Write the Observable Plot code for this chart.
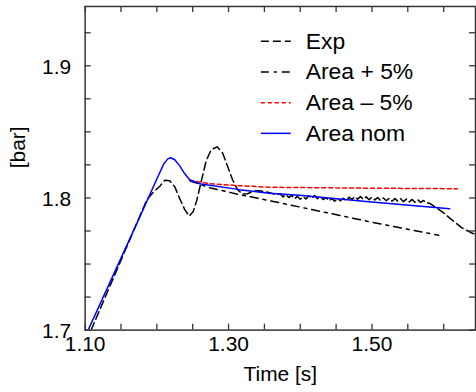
<!DOCTYPE html>
<html><head><meta charset="utf-8">
<script src="https://cdn.jsdelivr.net/npm/d3@7"></script>
<script src="https://cdn.jsdelivr.net/npm/@observablehq/plot@0.6"></script>
<style>
html,body{margin:0;padding:0;background:#fff;}
#chart{width:476px;height:392px;overflow:hidden;}
</style></head><body><div id="chart"></div>
<script>
// ---- data ----
const expTime = [1.1083,1.1861,1.1944,1.2042,1.2111,1.2181,1.2250,1.2319,1.2389,1.2451,1.2507,1.2556,1.2618,1.2688,1.2757,1.2840,1.2917,1.2986,1.3056,1.3125,1.3194,1.3264,1.3347,1.3431,1.3514,1.3597,1.3681,
 1.372,1.376,1.380,1.384,1.388,1.392,1.396,1.400,1.404,1.408,1.412,1.416,1.420,1.424,1.428,1.432,1.436,1.440,1.444,1.448,1.452,1.456,1.460,1.464,1.468,1.472,1.476,1.480,1.484,1.488,1.492,1.496,1.500,1.504,1.508,1.512,1.516,1.520,1.524,1.528,1.532,1.536,1.540,1.544,1.548,1.552,1.556,1.560,1.564,1.568,1.572,1.576,1.580,
 1.5972,1.6111,1.6250,1.6375,1.6468];
const expPressure = [1.7000,1.7987,1.8040,1.8089,1.8134,1.8130,1.8085,1.7995,1.7912,1.7863,1.7897,1.7980,1.8123,1.8281,1.8364,1.8387,1.8341,1.8240,1.8138,1.8063,1.8029,1.8032,1.8051,1.8055,1.8047,1.8036,1.8025,
 1.8032,1.8008,1.8027,1.8003,1.8020,1.7993,1.8012,1.7990,1.8009,1.7992,1.8016,1.7997,1.8018,1.7995,1.8012,1.7988,1.8003,1.7978,1.7997,1.7976,1.7996,1.7979,1.7998,1.7981,1.8006,1.7988,1.8010,1.7991,1.8010,1.7989,1.8008,1.7987,1.8006,1.7985,1.8003,1.7981,1.8000,1.7979,1.7998,1.7975,1.7995,1.7976,1.7994,1.7972,1.7991,1.7970,1.7989,1.7968,1.7986,1.7966,1.7981,1.7962,1.7960,
 1.7899,1.7836,1.7776,1.7739,1.7718];

const nomTime = [1.1042,1.1764,1.2014,1.2097,1.2153,1.2194,1.2250,1.2319,1.2389,1.2458,1.2597,1.3153,1.3569,1.3986,1.4958,1.6083];
const nomPressure = [1.7000,1.7859,1.8161,1.8258,1.8296,1.8304,1.8289,1.8243,1.8183,1.8138,1.8108,1.8063,1.8036,1.8021,1.7972,1.7919];

const plusTime = [1.2458,1.2736,1.3153,1.3569,1.4958,1.5931];
const plusPressure = [1.8130,1.8078,1.8025,1.7980,1.7821,1.7718];

const minusTime = [1.2458,1.2736,1.3153,1.3569,1.4958,1.6194];
const minusPressure = [1.8134,1.8108,1.8093,1.8081,1.8074,1.8070];

const xTickLabels = [1.10, 1.30, 1.50];
const xMinorTicks = [1.15, 1.20, 1.25, 1.35, 1.40, 1.45, 1.55, 1.60];
const yTickLabels = [1.7, 1.8, 1.9];
const yMinorTicks = [1.725, 1.75, 1.775, 1.825, 1.85, 1.875, 1.925];

const seriesNames = ["Exp", "Area + 5%", "Area \u2013 5%", "Area nom"];
const seriesColors = ["#000000", "#000000", "#ff0000", "#0000ff"];
const seriesDashes = ["8,4", "8,5,3,5", "4,3", null];

// ---- layout ----
const W = 478, H = 392, mL = 85, mR = 1, mT = 6, mB = 61;
const innerH = H - mT - mB, innerW = W - mL - mR;
const tickLen = 6;
const font = "'Liberation Sans', Arial, Helvetica, sans-serif";
const zip = (a, b) => a.map((t, i) => ({t, p: b[i]}));
const allX = [...xTickLabels, ...xMinorTicks];
const allY = [...yTickLabels, ...yMinorTicks];
const axisColor = "#333";

const lineOpts = (i) => ({x: "t", y: "p", stroke: seriesColors[i], strokeWidth: 1.5, strokeDasharray: seriesDashes[i] || undefined, clip: true});

const plot = Plot.plot({
  width: W, height: H,
  marginLeft: mL, marginRight: mR, marginTop: mT, marginBottom: mB,
  x: {domain: [1.10, 1.6444], axis: null},
  y: {domain: [1.7, 1.9449], axis: null},
  style: {fontFamily: font, background: "white", color: "#000"},
  marks: [
    Plot.line(zip(expTime, expPressure), lineOpts(0)),
    Plot.line(zip(plusTime, plusPressure), lineOpts(1)),
    Plot.line(zip(minusTime, minusPressure), lineOpts(2)),
    Plot.line(zip(nomTime, nomPressure), lineOpts(3)),
    Plot.frame({stroke: axisColor, strokeWidth: 1.5}),
    Plot.tickX(allX, {x: d => d, insetTop: innerH - tickLen, stroke: axisColor, strokeWidth: 1.3}),
    Plot.tickX(allX, {x: d => d, insetBottom: innerH - tickLen, stroke: axisColor, strokeWidth: 1.3}),
    Plot.tickY(allY, {y: d => d, insetRight: innerW - tickLen, stroke: axisColor, strokeWidth: 1.3}),
    Plot.tickY(allY, {y: d => d, insetLeft: innerW - tickLen, stroke: axisColor, strokeWidth: 1.3}),
    Plot.text(xTickLabels, {x: d => d, frameAnchor: "bottom", dy: 21, text: d => d.toFixed(2), fontSize: 21, fill: "#000"}),
    Plot.text(yTickLabels, {y: d => d, frameAnchor: "left", dx: -14, dy: 1, textAnchor: "end", text: d => d.toFixed(1), fontSize: 21, fill: "#000"}),
    Plot.text(["Time [s]"], {frameAnchor: "bottom", dy: 51, text: d => d, fontSize: 21, fill: "#000"}),
    Plot.text(["[bar]"], {frameAnchor: "left", dx: -67, rotate: -90, text: d => d, fontSize: 21, fill: "#000"})
  ]
});

// ---- legend (inside plot, top right) ----
const svg = d3.select(plot);
const lg = svg.append("g").attr("font-family", font).attr("font-size", 23).attr("text-anchor", "start");
seriesNames.forEach((name, i) => {
  const yy = 41.5 + i * 30.8;
  lg.append("line").attr("x1", 262).attr("x2", 292).attr("y1", yy).attr("y2", yy)
    .attr("stroke", seriesColors[i]).attr("stroke-width", 1.5)
    .attr("stroke-dasharray", seriesDashes[i] || null);
  lg.append("text").attr("x", 307).attr("y", yy + 7.5).attr("fill", "#000").attr("text-anchor", "start").text(name);
});

document.getElementById("chart").appendChild(plot);
</script>
</body></html>
